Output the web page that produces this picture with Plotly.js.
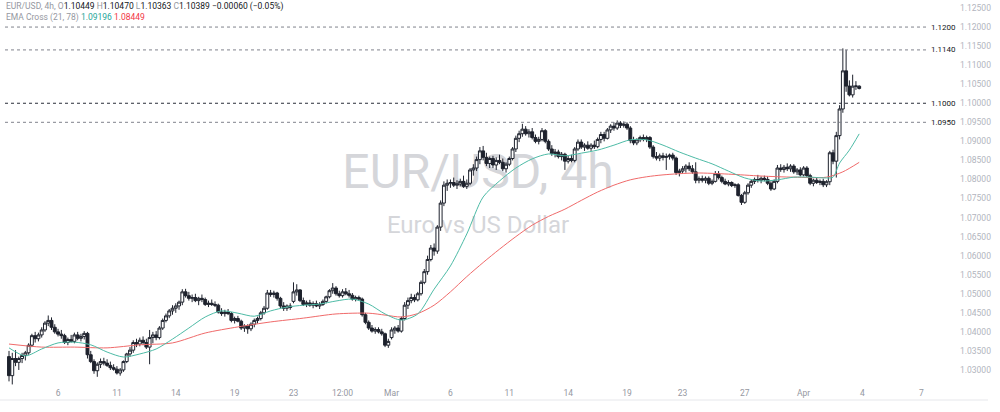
<!DOCTYPE html>
<html><head><meta charset="utf-8">
<script src="https://cdn.plot.ly/plotly-3.0.1.min.js"></script>
<style>html,body{margin:0;padding:0;background:#fff;}#chart{width:1000px;height:412px;}</style>
</head><body><div id="chart"></div>
<script>
// 4h candles, Feb 3 12:00 -> Apr 3 20:00 (bar index 0..260)
const openP = [
1.0335,1.0285,1.0330,1.0320,1.0330,1.0338,1.0345,1.0365,1.0390,1.0382,
1.0392,1.0405,1.0423,1.0430,1.0412,1.0400,1.0394,1.0390,1.0372,1.0380,
1.0375,1.0392,1.0383,1.0388,1.0396,1.0340,1.0322,1.0298,1.0315,1.0322,
1.0318,1.0312,1.0306,1.0302,1.0292,1.0300,1.0322,1.0342,1.0352,1.0372,
1.0368,1.0378,1.0372,1.0360,1.0385,1.0392,1.0385,1.0410,1.0430,1.0442,
1.0455,1.0462,1.0468,1.0478,1.0505,1.0495,1.0488,1.0490,1.0482,1.0488,
1.0485,1.0472,1.0475,1.0472,1.0470,1.0452,1.0448,1.0452,1.0448,1.0430,
1.0435,1.0428,1.0410,1.0415,1.0408,1.0420,1.0430,1.0435,1.0450,1.0462,
1.0502,1.0498,1.0502,1.0488,1.0468,1.0462,1.0468,1.0480,1.0505,1.0510,
1.0482,1.0472,1.0476,1.0470,1.0474,1.0468,1.0472,1.0480,1.0492,1.0508,
1.0515,1.0500,1.0495,1.0505,1.0500,1.0496,1.0486,1.0490,1.0486,1.0445,
1.0425,1.0410,1.0402,1.0406,1.0400,1.0395,1.0365,1.0385,1.0405,1.0410,
1.0402,1.0435,1.0470,1.0482,1.0490,1.0484,1.0500,1.0530,1.0558,1.0590,
1.0620,1.0612,1.0675,1.0738,1.0785,1.0790,1.0792,1.0785,1.0788,1.0795,
1.0782,1.0790,1.0825,1.0830,1.0852,1.0875,1.0858,1.0842,1.0855,1.0838,
1.0850,1.0845,1.0828,1.0840,1.0855,1.0880,1.0908,1.0920,1.0932,1.0920,
1.0925,1.0910,1.0900,1.0905,1.0928,1.0900,1.0880,1.0868,1.0872,1.0860,
1.0866,1.0848,1.0855,1.0850,1.0880,1.0898,1.0885,1.0890,1.0882,1.0890,
1.0886,1.0905,1.0918,1.0908,1.0930,1.0940,1.0935,1.0948,1.0942,1.0945,
1.0935,1.0902,1.0896,1.0904,1.0910,1.0905,1.0910,1.0885,1.0860,1.0856,
1.0862,1.0858,1.0860,1.0864,1.0856,1.0818,1.0822,1.0828,1.0835,1.0828,
1.0820,1.0798,1.0802,1.0798,1.0803,1.0790,1.0795,1.0815,1.0805,1.0795,
1.0788,1.0792,1.0784,1.0786,1.0758,1.0740,1.0765,1.0785,1.0795,1.0800,
1.0798,1.0803,1.0800,1.0790,1.0775,1.0795,1.0830,1.0826,1.0832,1.0828,
1.0835,1.0820,1.0825,1.0812,1.0830,1.0810,1.0790,1.0798,1.0792,1.0795,
1.0786,1.0794,1.0870,1.0848,1.0915,1.0985,1.1085,1.1045,1.1022,1.1045,
1.10449];
const highP = [
1.0350,1.0345,1.0352,1.0335,1.0345,1.0350,1.0370,1.0395,1.0400,1.0398,
1.0412,1.0428,1.0443,1.0438,1.0420,1.0408,1.0405,1.0395,1.0385,1.0392,
1.0398,1.0400,1.0395,1.0402,1.0400,1.0350,1.0328,1.0320,1.0330,1.0332,
1.0328,1.0322,1.0315,1.0310,1.0305,1.0325,1.0345,1.0360,1.0378,1.0382,
1.0385,1.0388,1.0382,1.0405,1.0400,1.0402,1.0415,1.0435,1.0448,1.0460,
1.0470,1.0475,1.0482,1.0512,1.0513,1.0505,1.0498,1.0500,1.0492,1.0498,
1.0490,1.0482,1.0485,1.0480,1.0474,1.0462,1.0458,1.0460,1.0452,1.0440,
1.0442,1.0432,1.0420,1.0420,1.0425,1.0435,1.0440,1.0455,1.0468,1.0510,
1.0510,1.0508,1.0505,1.0492,1.0478,1.0472,1.0475,1.0530,1.0525,1.0512,
1.0490,1.0482,1.0484,1.0480,1.0482,1.0478,1.0485,1.0495,1.0512,1.0528,
1.0520,1.0508,1.0512,1.0515,1.0510,1.0502,1.0495,1.0495,1.0490,1.0450,
1.0430,1.0418,1.0412,1.0412,1.0408,1.0398,1.0382,1.0412,1.0415,1.0418,
1.0440,1.0478,1.0490,1.0500,1.0498,1.0505,1.0535,1.0565,1.0600,1.0628,
1.0632,1.0680,1.0745,1.0795,1.0800,1.0800,1.0805,1.0798,1.0802,1.0810,
1.0800,1.0830,1.0840,1.0860,1.0885,1.0888,1.0870,1.0860,1.0862,1.0858,
1.0865,1.0855,1.0845,1.0860,1.0885,1.0915,1.0928,1.0946,1.0940,1.0932,
1.0935,1.0918,1.0912,1.0935,1.0932,1.0905,1.0890,1.0880,1.0878,1.0872,
1.0870,1.0862,1.0865,1.0885,1.0905,1.0905,1.0895,1.0900,1.0895,1.0902,
1.0910,1.0925,1.0925,1.0935,1.0945,1.0950,1.0955,1.0953,1.0952,1.0950,
1.0940,1.0912,1.0908,1.0915,1.0918,1.0915,1.0914,1.0890,1.0872,1.0868,
1.0870,1.0868,1.0868,1.0870,1.0860,1.0828,1.0835,1.0840,1.0845,1.0838,
1.0845,1.0808,1.0810,1.0808,1.0808,1.0800,1.0822,1.0822,1.0810,1.0802,
1.0798,1.0795,1.0790,1.0790,1.0762,1.0770,1.0790,1.0800,1.0805,1.0812,
1.0808,1.0810,1.0808,1.0795,1.0800,1.0838,1.0840,1.0838,1.0842,1.0840,
1.0840,1.0830,1.0832,1.0835,1.0835,1.0815,1.0802,1.0805,1.0800,1.0802,
1.0798,1.0875,1.0878,1.0925,1.0995,1.1144,1.1140,1.1060,1.1075,1.1058,
1.10470];
const lowP = [
1.0270,1.0262,1.0310,1.0300,1.0318,1.0325,1.0340,1.0360,1.0372,1.0375,
1.0385,1.0400,1.0415,1.0405,1.0395,1.0388,1.0382,1.0368,1.0365,1.0372,
1.0370,1.0378,1.0375,1.0380,1.0330,1.0318,1.0290,1.0282,1.0305,1.0312,
1.0308,1.0300,1.0298,1.0288,1.0285,1.0295,1.0318,1.0335,1.0345,1.0360,
1.0362,1.0365,1.0355,1.0315,1.0370,1.0378,1.0380,1.0405,1.0425,1.0436,
1.0445,1.0450,1.0458,1.0470,1.0490,1.0482,1.0478,1.0478,1.0470,1.0478,
1.0468,1.0465,1.0468,1.0465,1.0448,1.0442,1.0440,1.0444,1.0425,1.0422,
1.0425,1.0405,1.0400,1.0395,1.0402,1.0412,1.0422,1.0430,1.0445,1.0458,
1.0492,1.0490,1.0482,1.0462,1.0455,1.0455,1.0458,1.0475,1.0495,1.0478,
1.0468,1.0465,1.0466,1.0462,1.0465,1.0460,1.0468,1.0475,1.0488,1.0500,
1.0495,1.0490,1.0490,1.0496,1.0490,1.0482,1.0480,1.0482,1.0440,1.0420,
1.0405,1.0398,1.0395,1.0396,1.0390,1.0360,1.0358,1.0380,1.0395,1.0398,
1.0398,1.0430,1.0460,1.0475,1.0478,1.0480,1.0495,1.0525,1.0550,1.0585,
1.0600,1.0605,1.0665,1.0730,1.0770,1.0778,1.0780,1.0775,1.0782,1.0778,
1.0775,1.0785,1.0810,1.0822,1.0840,1.0850,1.0835,1.0830,1.0830,1.0825,
1.0840,1.0822,1.0818,1.0835,1.0850,1.0872,1.0898,1.0912,1.0915,1.0910,
1.0905,1.0895,1.0892,1.0900,1.0895,1.0875,1.0862,1.0858,1.0855,1.0850,
1.0825,1.0842,1.0845,1.0845,1.0875,1.0880,1.0875,1.0878,1.0875,1.0880,
1.0882,1.0895,1.0900,1.0905,1.0922,1.0928,1.0930,1.0935,1.0936,1.0930,
1.0895,1.0890,1.0890,1.0898,1.0900,1.0898,1.0880,1.0855,1.0850,1.0848,
1.0850,1.0825,1.0852,1.0850,1.0812,1.0808,1.0815,1.0818,1.0822,1.0815,
1.0790,1.0790,1.0792,1.0790,1.0785,1.0785,1.0792,1.0800,1.0790,1.0785,
1.0782,1.0780,1.0778,1.0755,1.0733,1.0736,1.0760,1.0778,1.0788,1.0792,
1.0790,1.0795,1.0785,1.0770,1.0772,1.0790,1.0820,1.0818,1.0822,1.0820,
1.0815,1.0812,1.0808,1.0808,1.0805,1.0785,1.0782,1.0788,1.0785,1.0780,
1.0780,1.0785,1.0840,1.0805,1.0905,1.0975,1.1030,1.1018,1.1015,1.1035,
1.10363];
const closeP = [
1.0285,1.0330,1.0320,1.0330,1.0338,1.0345,1.0365,1.0390,1.0382,1.0392,
1.0405,1.0423,1.0430,1.0412,1.0400,1.0394,1.0390,1.0372,1.0380,1.0375,
1.0392,1.0383,1.0388,1.0396,1.0340,1.0322,1.0298,1.0315,1.0322,1.0318,
1.0312,1.0306,1.0302,1.0292,1.0300,1.0322,1.0342,1.0352,1.0372,1.0368,
1.0378,1.0372,1.0360,1.0385,1.0392,1.0385,1.0410,1.0430,1.0442,1.0455,
1.0462,1.0468,1.0478,1.0505,1.0495,1.0488,1.0490,1.0482,1.0488,1.0485,
1.0472,1.0475,1.0472,1.0470,1.0452,1.0448,1.0452,1.0448,1.0430,1.0435,
1.0428,1.0410,1.0415,1.0408,1.0420,1.0430,1.0435,1.0450,1.0462,1.0502,
1.0498,1.0502,1.0488,1.0468,1.0462,1.0468,1.0464,1.0505,1.0510,1.0482,
1.0472,1.0476,1.0470,1.0474,1.0468,1.0472,1.0480,1.0492,1.0508,1.0515,
1.0500,1.0495,1.0505,1.0500,1.0496,1.0486,1.0490,1.0486,1.0445,1.0425,
1.0410,1.0402,1.0406,1.0400,1.0395,1.0365,1.0375,1.0405,1.0410,1.0402,
1.0435,1.0470,1.0482,1.0490,1.0484,1.0500,1.0530,1.0558,1.0590,1.0620,
1.0612,1.0675,1.0738,1.0785,1.0790,1.0792,1.0785,1.0788,1.0795,1.0782,
1.0790,1.0825,1.0830,1.0852,1.0875,1.0858,1.0842,1.0855,1.0838,1.0850,
1.0845,1.0828,1.0840,1.0855,1.0880,1.0908,1.0920,1.0932,1.0920,1.0925,
1.0910,1.0900,1.0905,1.0928,1.0900,1.0880,1.0868,1.0872,1.0860,1.0866,
1.0848,1.0855,1.0850,1.0880,1.0898,1.0885,1.0890,1.0882,1.0890,1.0886,
1.0905,1.0918,1.0908,1.0930,1.0940,1.0935,1.0948,1.0942,1.0945,1.0935,
1.0902,1.0896,1.0904,1.0910,1.0905,1.0910,1.0885,1.0860,1.0856,1.0862,
1.0858,1.0860,1.0864,1.0856,1.0818,1.0822,1.0828,1.0835,1.0828,1.0820,
1.0798,1.0802,1.0798,1.0803,1.0790,1.0795,1.0815,1.0805,1.0795,1.0788,
1.0792,1.0784,1.0786,1.0758,1.0740,1.0765,1.0785,1.0795,1.0800,1.0798,
1.0803,1.0800,1.0790,1.0775,1.0795,1.0830,1.0826,1.0832,1.0828,1.0835,
1.0820,1.0825,1.0812,1.0830,1.0810,1.0790,1.0798,1.0792,1.0795,1.0786,
1.0794,1.0870,1.0848,1.0915,1.0985,1.1085,1.1045,1.1022,1.1045,1.1045,
1.10389];

const ema21Bars = [0,5,10,15,20,25,30,35,40,45,50,55,60,65,70,75,80,85,90,95,100,105,110,115,120,125,130,135,140,145,150,155,160,165,170,175,180,185,190,195,200,205,210,215,220,225,230,235,240,245,250,252,254,257,260];
const ema21Vals = [1.0358,1.0337,1.0355,1.0371,1.0373,1.0366,1.0347,1.0334,1.0342,1.0355,1.0381,1.0410,1.0439,1.0455,1.0449,1.0441,1.0455,1.0465,1.0470,1.0473,1.0481,1.0486,1.0473,1.0447,1.0431,1.0447,1.0512,1.0573,1.0657,1.0754,1.0796,1.0830,1.0854,1.0867,1.0862,1.0869,1.0877,1.0890,1.0904,1.0904,1.0890,1.0872,1.0856,1.0841,1.0822,1.0804,1.0796,1.0799,1.0806,1.0806,1.0804,1.0806,1.0843,1.0877,1.09196];
const ema78Bars = [0,10,20,30,40,50,60,70,80,90,100,110,115,120,125,130,135,140,145,150,155,160,165,170,175,180,185,190,195,200,210,220,230,240,250,255,260];
const ema78Vals = [1.0368,1.0360,1.0360,1.0358,1.0366,1.0371,1.0397,1.0413,1.0426,1.0436,1.0447,1.0449,1.0444,1.0439,1.0448,1.0470,1.0505,1.0545,1.0582,1.0617,1.0650,1.0680,1.0703,1.0722,1.0745,1.0767,1.0785,1.0799,1.0807,1.0812,1.0817,1.0814,1.0809,1.0806,1.0806,1.0820,1.08449];

const tickBars = [15,33,51,69,87,102,117,135,153,171,189,206,225,243,261,279];
const tickText = ['6','11','14','19','23','12:00','Mar','6','11','14','19','23','27','Apr','4','7'];

const levels = [1.1200, 1.1140, 1.1000, 1.0950];
const levelLabels = ['1.1200', '1.1140', '1.1000', '1.0950'];

const bars = closeP.map((_, i) => i);
const FONT = 'Roboto, "Noto Sans", Arial, sans-serif';
const PLOT_W = 956, PLOT_H = 386;

const traces = [
  {
    type: 'candlestick', x: bars, open: openP, high: highP, low: lowP, close: closeP,
    increasing: {line: {color: '#1e222d', width: 1}, fillcolor: '#ffffff'},
    decreasing: {line: {color: '#1e222d', width: 1}, fillcolor: '#1e222d'},
    whiskerwidth: 0, hoverinfo: 'skip', showlegend: false
  },
  {
    type: 'scatter', mode: 'lines', x: ema78Bars, y: ema78Vals,
    line: {color: '#f06a6a', width: 1, shape: 'spline', smoothing: 0.8},
    hoverinfo: 'skip', showlegend: false
  },
  {
    type: 'scatter', mode: 'lines', x: ema21Bars, y: ema21Vals,
    line: {color: '#4dbba6', width: 1, shape: 'spline', smoothing: 0.8},
    hoverinfo: 'skip', showlegend: false
  }
];

const shapes = levels.map(v => ({
  type: 'line', xref: 'paper', yref: 'y', x0: 5 / PLOT_W, x1: 926 / PLOT_W, y0: v, y1: v,
  line: {color: v === 1.1 ? '#2a2e39' : '#80838c', width: 1, dash: '3px,3px'}
}));
// watermark behind the candles
shapes.push({
  type: 'rect', xref: 'paper', yref: 'paper', layer: 'below',
  x0: 300 / PLOT_W, x1: 656 / PLOT_W, y0: 1 - 200 / PLOT_H, y1: 1 - 136 / PLOT_H,
  line: {width: 0}, fillcolor: 'rgba(0,0,0,0)',
  label: {text: 'EUR/USD, 4h', font: {family: FONT, size: 48, color: '#d5d6da'}, textposition: 'middle center'}
});
shapes.push({
  type: 'rect', xref: 'paper', yref: 'paper', layer: 'below',
  x0: 340 / PLOT_W, x1: 616 / PLOT_W, y0: 1 - 240 / PLOT_H, y1: 1 - 206 / PLOT_H,
  line: {width: 0}, fillcolor: 'rgba(0,0,0,0)',
  label: {text: 'Euro vs US Dollar', font: {family: FONT, size: 24, color: '#d5d6da'}, textposition: 'middle center'}
});
// bottom border of the time scale
shapes.push({
  type: 'line', xref: 'paper', yref: 'paper', x0: 0, x1: 988 / PLOT_W,
  y0: -(400 - PLOT_H) / PLOT_H, y1: -(400 - PLOT_H) / PLOT_H,
  line: {color: '#e6e7eb', width: 1}
});

const annotations = levels.map((v, k) => ({
  xref: 'paper', yref: 'y', x: 929 / PLOT_W, y: v, xanchor: 'left', yanchor: 'middle',
  text: levelLabels[k], showarrow: false, font: {family: FONT, size: 8, color: '#131722'}
}));
const G = '#9598a1', D = '#131722';
annotations.push({
  xref: 'paper', yref: 'paper', x: 4 / PLOT_W, y: 1 - 7 / PLOT_H, xanchor: 'left', yanchor: 'middle',
  showarrow: false, font: {family: FONT, size: 8.5, color: D},
  text: `<span style="color:${G}">EUR/USD, 4h, </span><span style="color:${G}">O</span>1.10449 <span style="color:${G}">H</span>1.10470 <span style="color:${G}">L</span>1.10363 <span style="color:${G}">C</span>1.10389 −0.00060 (−0.05%)`
});
annotations.push({
  xref: 'paper', yref: 'paper', x: 4 / PLOT_W, y: 1 - 18 / PLOT_H, xanchor: 'left', yanchor: 'middle',
  showarrow: false, font: {family: FONT, size: 8.5, color: G},
  text: `EMA Cross (21, 78) <span style="color:#26a69a">1.09196</span> <span style="color:#f23645">1.08449</span>`
});

const layout = {
  width: 1000, height: 412,
  margin: {l: 0, r: 1000 - PLOT_W, t: 0, b: 412 - PLOT_H, pad: 0},
  paper_bgcolor: '#ffffff', plot_bgcolor: '#ffffff', showlegend: false,
  font: {family: FONT},
  boxgap: 0.12, boxgroupgap: 0,
  xaxis: {
    range: [-9 / 3.27, (PLOT_W - 9) / 3.27], tickmode: 'array', tickvals: tickBars, ticktext: tickText,
    showgrid: false, zeroline: false, showline: false, ticks: '',
    tickfont: {family: FONT, size: 8.5, color: '#9598a1'},
    rangeslider: {visible: false}, fixedrange: true
  },
  yaxis: {
    side: 'right', range: [1.02579, 1.1271], tickmode: 'linear', tick0: 1.03, dtick: 0.005,
    tickformat: '.5f', showgrid: false, zeroline: false, showline: false, ticks: '',
    ticklabelstandoff: 3,
    tickfont: {family: FONT, size: 8.5, color: '#b2b5be'}, fixedrange: true
  },
  shapes: shapes, annotations: annotations
};

Plotly.newPlot('chart', traces, layout, {displayModeBar: false, staticPlot: true});
</script>
</body></html>
